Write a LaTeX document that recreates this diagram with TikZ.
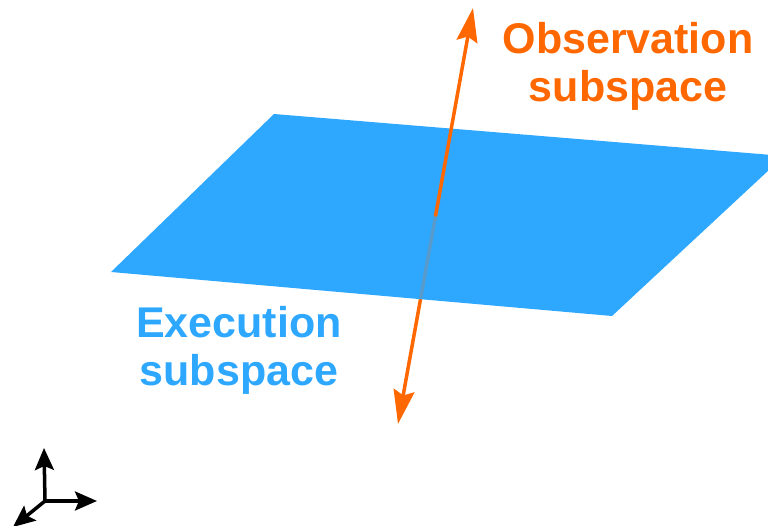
\documentclass[tikz,border=0pt]{standalone}
\usepackage{fontspec}
\setmainfont{Liberation Sans}
\usepackage{tikz}
\usetikzlibrary{arrows.meta,calc}
\definecolor{planeblue}{RGB}{46,168,255}
\definecolor{obsorange}{RGB}{255,104,0}

\begin{document}
\begin{tikzpicture}[x=1pt,y=-1pt,
  obs/.style={draw=obsorange,line width=3.5pt,-{Stealth[length=34pt,width=21pt,inset=5pt]}},
  ax/.style={line width=3.5pt,-{Stealth[length=22pt,width=19pt,inset=4pt]}},
  lbl/.style={font=\bfseries\fontsize{43}{48}\selectfont,align=center,inner sep=0pt}]
\useasboundingbox (0,0) rectangle (768,526);
% plane corners and the observation axis
\coordinate (nw) at (274,114);
\coordinate (ne) at (784,156);
\coordinate (se) at (612,316);
\coordinate (sw) at (111,272);
\coordinate (top) at (473,8);
\coordinate (bot) at (398,424);
\coordinate (cross) at ($(top)!0.501!(bot)$);
\coordinate (exit) at ($(top)!0.697!(bot)$);
\draw[obs] (cross) -- (bot);
\fill[planeblue] (nw) -- (ne) -- (se) -- (sw) -- cycle;
\draw[obs,-,opacity=.2] (cross) -- (exit);
\draw[obs] (cross) -- (top);
\node[lbl,text=obsorange] (obslbl) at (628,66) {Observation\\subspace};
\node[lbl,text=planeblue] (exelbl) at (239,350) {Execution\\subspace};
% small axes
\coordinate (o) at (45,501);
\coordinate (up) at (44,448);
\coordinate (rt) at (97,501);
\coordinate (dl) at (13,527);
\foreach \n in {up,rt,dl}
  \draw[ax] (o) -- (\n);
\end{tikzpicture}
\end{document}
